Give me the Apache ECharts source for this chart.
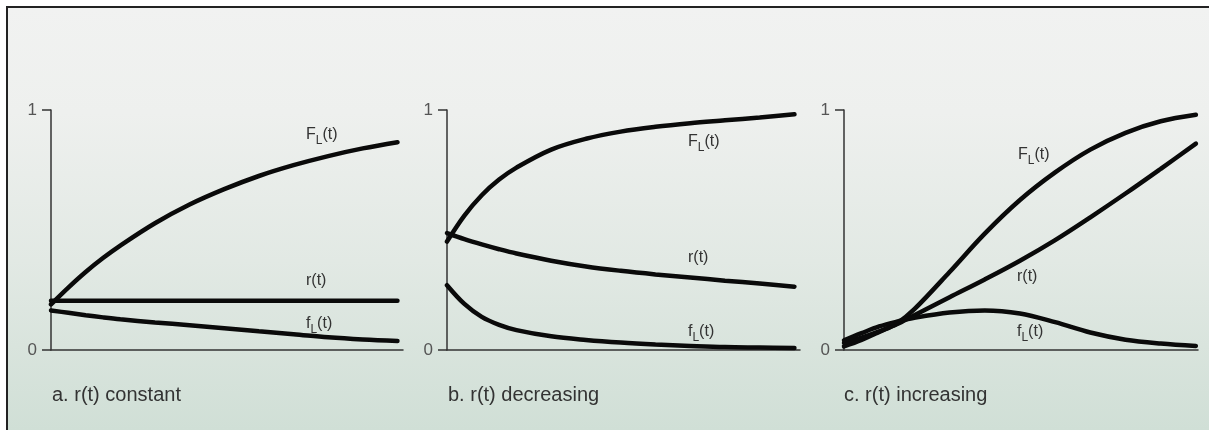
<!DOCTYPE html>
<html>
<head>
<meta charset="utf-8">
<script src="https://cdn.jsdelivr.net/npm/echarts@6/dist/echarts.min.js"></script>
<style>
html,body{margin:0;padding:0;background:#ffffff;}
#chart{width:1209px;height:430px;}
</style>
</head>
<body>
<div id="chart"></div>
<script>
// time grid (fraction of horizontal span) shared by all panels
var T = [0, 0.05, 0.1, 0.15, 0.2, 0.3, 0.4, 0.5, 0.6, 0.7, 0.8, 0.9, 1];

// panel a: r(t) constant
var aFL = [0.19, 0.26, 0.325, 0.383, 0.435, 0.528, 0.606, 0.67, 0.725, 0.77, 0.808, 0.84, 0.866];
var aR  = [0.205, 0.205, 0.205, 0.205, 0.205, 0.205, 0.205, 0.205, 0.205, 0.205, 0.205, 0.205, 0.205];
var afL = [0.165, 0.155, 0.145, 0.136, 0.128, 0.115, 0.103, 0.091, 0.078, 0.066, 0.053, 0.044, 0.038];

// panel b: r(t) decreasing
var bFL = [0.452, 0.56, 0.645, 0.71, 0.76, 0.835, 0.88, 0.91, 0.93, 0.945, 0.957, 0.969, 0.982];
var bR  = [0.487, 0.462, 0.44, 0.42, 0.402, 0.372, 0.348, 0.33, 0.315, 0.302, 0.289, 0.277, 0.264];
var bfL = [0.27, 0.192, 0.138, 0.105, 0.083, 0.057, 0.042, 0.031, 0.023, 0.017, 0.012, 0.01, 0.008];

// panel c: r(t) increasing
var cFL = [0.015, 0.042, 0.075, 0.11, 0.17, 0.325, 0.485, 0.625, 0.74, 0.835, 0.905, 0.953, 0.98];
var cR  = [0.03, 0.052, 0.078, 0.107, 0.145, 0.22, 0.294, 0.372, 0.458, 0.553, 0.652, 0.755, 0.86];
var cfL = [0.04, 0.07, 0.098, 0.118, 0.134, 0.156, 0.165, 0.152, 0.116, 0.073, 0.043, 0.027, 0.017];

var captions = ['a. r(t) constant', 'b. r(t) decreasing', 'c. r(t) increasing'];
var yTickLabels = ['0', '1'];

function pairs(vals) { return T.map(function (t, i) { return [t, vals[i]]; }); }

var chart = echarts.init(document.getElementById('chart'));

var grids = [
  {left: 51, top: 110, width: 352, height: 240},
  {left: 447, top: 110, width: 353, height: 240},
  {left: 844, top: 110, width: 354, height: 240}
];
var xMax = [1.016, 1.016, 1.006];

var xAxes = grids.map(function (g, i) {
  return {
    type: 'value', gridIndex: i, min: 0, max: xMax[i],
    axisLine: {show: true, lineStyle: {color: '#333', width: 1.5}},
    axisTick: {show: false}, axisLabel: {show: false}, splitLine: {show: false}
  };
});
var yAxes = grids.map(function (g, i) {
  return {
    type: 'value', gridIndex: i, min: 0, max: 1, interval: 1,
    axisLine: {show: true, lineStyle: {color: '#333', width: 1.5}},
    axisTick: {show: true, length: 9, lineStyle: {color: '#333', width: 1.5}},
    axisLabel: {show: true, margin: 14, color: '#555', fontSize: 17, fontFamily: 'Liberation Sans',
      formatter: function (v) { return v === 0 ? yTickLabels[0] : yTickLabels[1]; }},
    splitLine: {show: false}
  };
});

var panelData = [[aFL, aR, afL], [bFL, bR, bfL], [cFL, cR, cfL]];
var series = [];
panelData.forEach(function (set, i) {
  set.forEach(function (vals) {
    series.push({
      type: 'line', xAxisIndex: i, yAxisIndex: i, data: pairs(vals),
      smooth: 0.35, symbol: 'none',
      lineStyle: {color: '#0a0a0a', width: 4.5, cap: 'round'},
      silent: true, z: 5
    });
  });
});

var rich = {
  n: {fontSize: 16, fontFamily: 'Liberation Sans', fill: '#333', color: '#333'},
  s: {fontSize: 12, fontFamily: 'Liberation Sans', fill: '#333', color: '#333', padding: [12, 0, 0, 0]}
};
function curveLabel(x, y, txt) {
  return {
    type: 'text', x: x, y: y, z: 20,
    style: {text: txt, rich: rich, fill: '#333', font: '16px Liberation Sans', align: 'left', verticalAlign: 'middle'}
  };
}

var graphics = [
  {type: 'rect', shape: {x: 7, y: 7, width: 1202, height: 423}, z: -10,
    style: {fill: {type: 'linear', x: 0, y: 0, x2: 0, y2: 1, colorStops: [
      {offset: 0, color: '#f1f2f1'}, {offset: 0.25, color: '#eef0ee'},
      {offset: 0.6, color: '#e2e9e4'}, {offset: 1, color: '#d0dfd6'}]}}},
  {type: 'line', shape: {x1: 6, y1: 7, x2: 1209, y2: 7}, z: 30, style: {stroke: '#222', lineWidth: 2}},
  {type: 'line', shape: {x1: 7, y1: 6, x2: 7, y2: 430}, z: 30, style: {stroke: '#222', lineWidth: 2}},
  curveLabel(306, 135, '{n|F}{s|L}{n|(t)}'),
  curveLabel(306, 281, '{n|r(t)}'),
  curveLabel(306, 324, '{n|f}{s|L}{n|(t)}'),
  curveLabel(688, 142, '{n|F}{s|L}{n|(t)}'),
  curveLabel(688, 258, '{n|r(t)}'),
  curveLabel(688, 332, '{n|f}{s|L}{n|(t)}'),
  curveLabel(1018, 155, '{n|F}{s|L}{n|(t)}'),
  curveLabel(1017, 277, '{n|r(t)}'),
  curveLabel(1017, 332, '{n|f}{s|L}{n|(t)}')
];
var capX = [52, 448, 844];
captions.forEach(function (c, i) {
  graphics.push({type: 'text', x: capX[i], y: 395, z: 20,
    style: {text: c, fill: '#333', font: '20px Liberation Sans', align: 'left', verticalAlign: 'middle'}});
});

chart.setOption({
  animation: false,
  backgroundColor: '#ffffff',
  grid: grids,
  xAxis: xAxes,
  yAxis: yAxes,
  series: series,
  graphic: graphics
});
</script>
</body>
</html>
